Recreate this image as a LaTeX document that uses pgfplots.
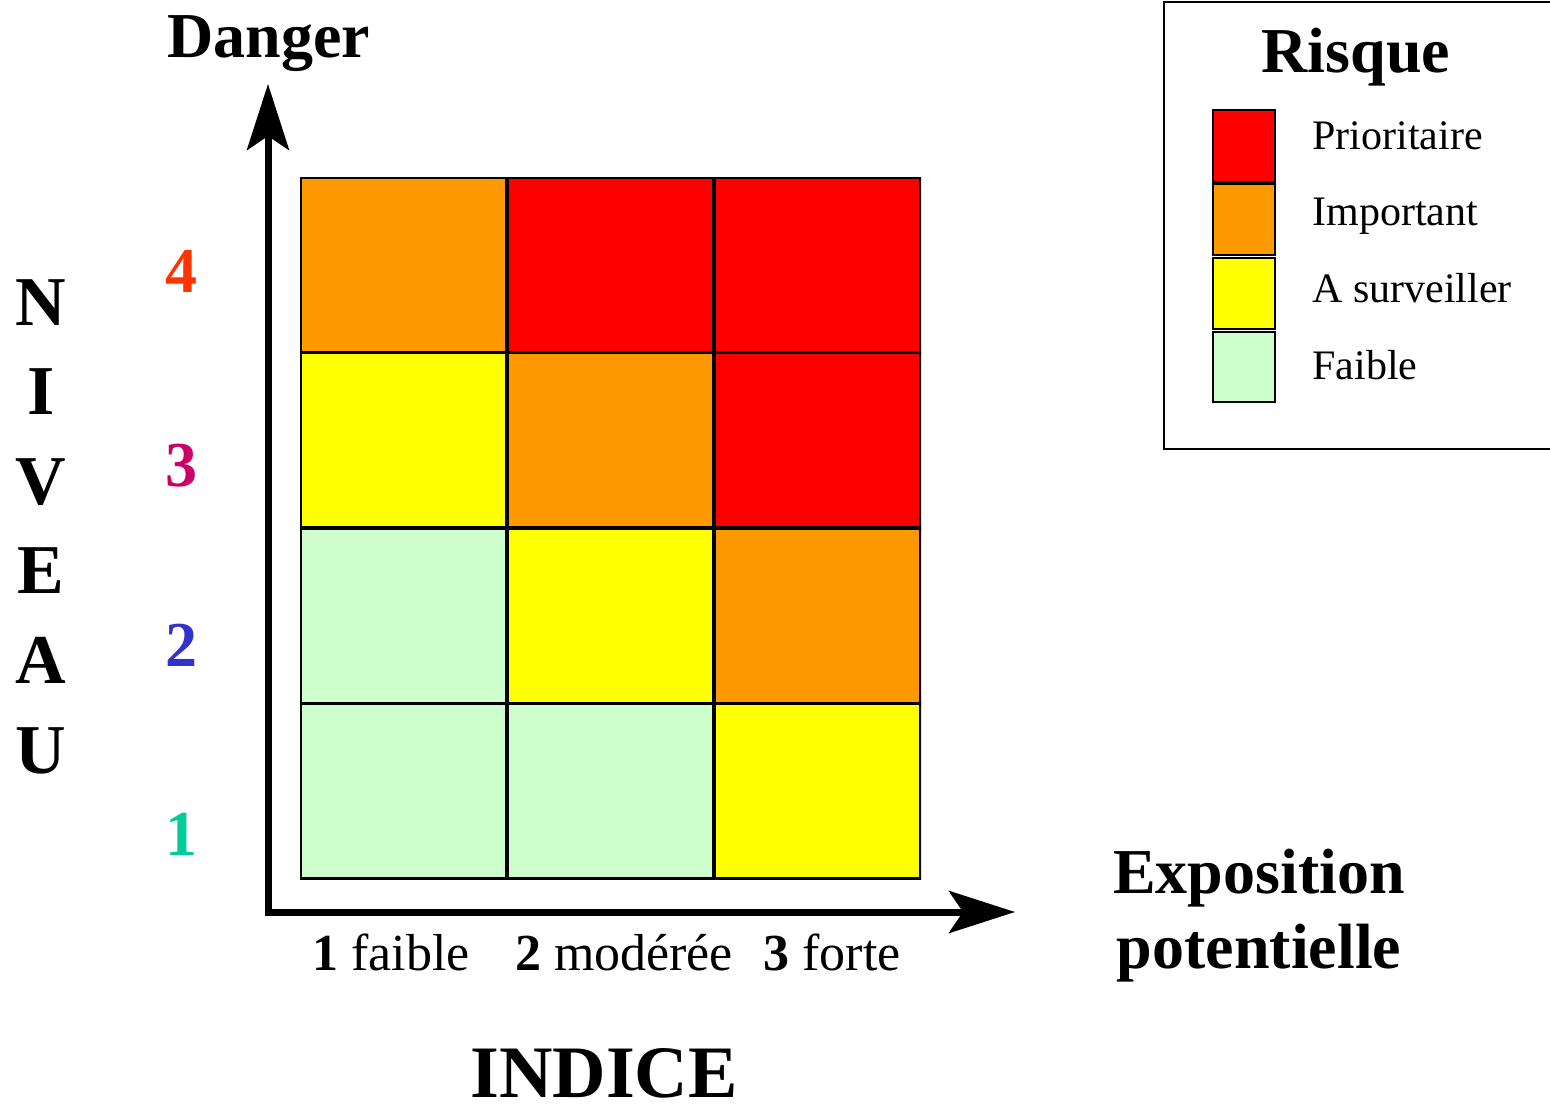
\documentclass[border=0pt]{standalone}
\usepackage{pgfplots}
\pgfplotsset{compat=1.18}
\usepackage{fontspec}
\setmainfont{Liberation Serif}
\usetikzlibrary{arrows.meta}
\definecolor{cfaible}{RGB}{204,255,204}
\definecolor{csurv}{RGB}{255,255,0}
\definecolor{cimp}{RGB}{255,153,0}
\definecolor{cprio}{RGB}{255,0,0}
\definecolor{lv4}{RGB}{255,51,0}
\definecolor{lv3}{RGB}{204,0,102}
\definecolor{lv2}{RGB}{51,51,204}
\definecolor{lv1}{RGB}{0,204,153}
\begin{document}
\begin{tikzpicture}
\path[use as bounding box] (0,0) rectangle (775pt,-555.5pt);
\begin{axis}[at={(150pt,-439.5pt)}, anchor=south west, scale only axis,
  width=310.5pt, height=351pt, xmin=0, xmax=3, ymin=0, ymax=4, hide axis,
  colormap={risk}{rgb255=(204,255,204) rgb255=(255,255,0) rgb255=(255,153,0) rgb255=(255,0,0)},
  colormap access=direct]
% each cell: 4 corners, meta = risk class (0 Faible, 1 A surveiller, 2 Important, 3 Prioritaire)
\addplot[patch, patch type=rectangle, point meta=explicit, shader=faceted,
  faceted color=black, line width=1.8pt] table[meta=c] {
x y c
0 0 0
1 0 0
1 1 0
0 1 0
1 0 0
2 0 0
2 1 0
1 1 0
2 0 1
3 0 1
3 1 1
2 1 1
0 1 0
1 1 0
1 2 0
0 2 0
1 1 1
2 1 1
2 2 1
1 2 1
2 1 2
3 1 2
3 2 2
2 2 2
0 2 1
1 2 1
1 3 1
0 3 1
1 2 2
2 2 2
2 3 2
1 3 2
2 2 3
3 2 3
3 3 3
2 3 3
0 3 2
1 3 2
1 4 2
0 4 2
1 3 3
2 3 3
2 4 3
1 4 3
2 3 3
3 3 3
3 4 3
2 4 3
};
\end{axis}
\begin{scope}[x=0.5pt,y=-0.5pt]
% axes arrows
\draw[line width=3.5pt, line join=miter,
  {Stealth[length=33pt,width=21pt,inset=7pt]}-{Stealth[length=33pt,width=21pt,inset=7pt]}]
  (268,84) -- (268,912) -- (1015,912);
% titles
\node[anchor=base west, inner sep=0pt, font=\fontsize{32}{38}\selectfont\bfseries] at (167,58) {Danger};
\node[anchor=base, inner sep=0pt, font=\fontsize{32}{38}\selectfont\bfseries] at (1259,893) {Exposition};
\node[anchor=base, inner sep=0pt, font=\fontsize{32}{38}\selectfont\bfseries] at (1259,968) {potentielle};
\node[anchor=base, inner sep=0pt, font=\fontsize{37}{44}\selectfont\bfseries] at (604,1097) {INDICE};
% NIVEAU
\foreach \l/\yy in {N/326,I/415,V/505,E/593,A/683,U/773}
  \node[anchor=base, inner sep=0pt, font=\fontsize{35}{42}\selectfont\bfseries] at (41,\yy) {\l};
% y labels
\node[anchor=base, inner sep=0pt, text=lv4, font=\fontsize{32}{38}\selectfont\bfseries] at (181,293) {4};
\node[anchor=base, inner sep=0pt, text=lv3, font=\fontsize{32}{38}\selectfont\bfseries] at (181,487) {3};
\node[anchor=base, inner sep=0pt, text=lv2, font=\fontsize{32}{38}\selectfont\bfseries] at (181,666) {2};
\node[anchor=base, inner sep=0pt, text=lv1, font=\fontsize{32}{38}\selectfont\bfseries] at (181,855) {1};
% x labels
\node[anchor=base, inner sep=0pt, font=\fontsize{26}{31}\selectfont] at (391,970) {\textbf{1} faible};
\node[anchor=base, inner sep=0pt, font=\fontsize{26}{31}\selectfont] at (624,970) {\textbf{2} modérée};
\node[anchor=base, inner sep=0pt, font=\fontsize{26}{31}\selectfont] at (832,970) {\textbf{3} forte};
% legend
\draw[line width=1pt] (1164,2) rectangle (1560,449);
\node[anchor=base, inner sep=0pt, font=\fontsize{32}{38}\selectfont\bfseries] at (1356,73) {Risque};
\draw[line width=1.2pt, fill=cprio] (1213,110) rectangle (1275,182);
\draw[line width=1.2pt, fill=cimp] (1213,184) rectangle (1275,255);
\draw[line width=1.2pt, fill=csurv] (1213,258) rectangle (1275,329);
\draw[line width=1.2pt, fill=cfaible] (1213,332) rectangle (1275,402);
\node[anchor=base west, inner sep=0pt, font=\fontsize{21}{25}\selectfont] at (1312,150) {Prioritaire};
\node[anchor=base west, inner sep=0pt, font=\fontsize{21}{25}\selectfont] at (1312,226) {Important};
\node[anchor=base west, inner sep=0pt, font=\fontsize{21}{25}\selectfont] at (1312,303) {A surveiller};
\node[anchor=base west, inner sep=0pt, font=\fontsize{21}{25}\selectfont] at (1312,380) {Faible};
\end{scope}
\end{tikzpicture}
\end{document}
